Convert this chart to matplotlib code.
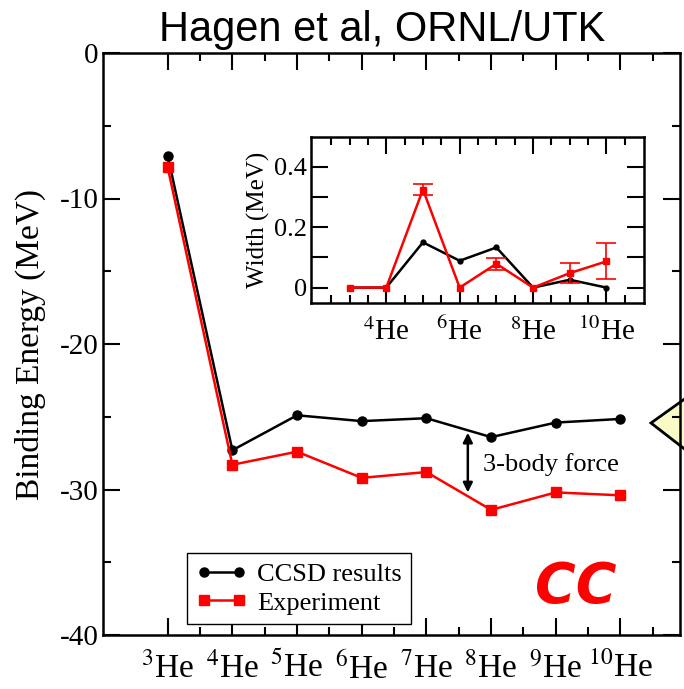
import numpy as np
import matplotlib
matplotlib.use('Agg')
import matplotlib.pyplot as plt
from matplotlib.patches import Polygon

plt.rcParams['font.family'] = 'Liberation Serif'
plt.rcParams['mathtext.fontset'] = 'stix'

# main panel data (binding energies, MeV)
isotopes = [3, 4, 5, 6, 7, 8, 9, 10]
tick_labels = [r'$^{3}$He', r'$^{4}$He', r'$^{5}$He', r'$^{6}$He',
               r'$^{7}$He', r'$^{8}$He', r'$^{9}$He', r'$^{10}$He']
ccsd_energy = [-7.06, -27.3, -24.9, -25.3, -25.1, -26.4, -25.4, -25.15]
exp_energy = [-7.86, -28.3, -27.4, -29.2, -28.8, -31.4, -30.2, -30.4]

# inset data (widths, MeV)
ccsd_width = [0.0, 0.0, 0.150, 0.089, 0.133, 0.0, 0.026, 0.0]
exp_width = [0.0, 0.0, 0.325, 0.0, 0.079, 0.0, 0.048, 0.087]
exp_width_err = [0.0, 0.0, 0.019, 0.0, 0.020, 0.0, 0.032, 0.060]
inset_ticks = [4, 6, 8, 10]
inset_labels = [r'$^{4}$He', r'$^{6}$He', r'$^{8}$He', r'$^{10}$He']

RED = '#ff0000'

fig = plt.figure(figsize=(6.84, 6.89), dpi=100)

# main axes
ax = fig.add_axes([103/684, 54/689, 577/684, 582/689])
ax.patch.set_visible(False)
ax.plot(isotopes, ccsd_energy, c='k', lw=1.8, marker='o', ms=6.5,
        label='CCSD results', zorder=3)
ax.plot(isotopes, exp_energy, c=RED, lw=1.8, marker='s', ms=7.5,
        label='Experiment', zorder=4)
ax.set_xlim(2, 10.92)
ax.set_ylim(-40, 0)
ax.set_xticks(isotopes)
ax.set_xticklabels(tick_labels, fontsize=24)
ax.set_xticks(np.arange(3.5, 10.6, 1.0), minor=True)
ax.set_yticks([0, -10, -20, -30, -40])
ax.set_yticklabels(['0', '-10', '-20', '-30', '-40'], fontsize=21)
ax.set_yticks([-5, -15, -25, -35], minor=True)
ax.tick_params(which='both', direction='in', top=True, right=True, width=1.5)
ax.tick_params(which='major', length=12)
ax.tick_params(which='minor', length=6)
ax.tick_params(axis='x', pad=12)
ax.tick_params(axis='y', pad=3)
for s in ax.spines.values():
    s.set_linewidth(1.8)
ax.set_ylabel('Binding Energy (MeV)', fontsize=24, labelpad=10)

# 3-body force arrow
ax.annotate('', xy=(7.64, -30.2), xytext=(7.64, -26.1),
            arrowprops=dict(arrowstyle='<|-|>', color='k', lw=1.8,
                            mutation_scale=14, shrinkA=0, shrinkB=0))
ax.text(7.88, -28.3, '3-body force', fontsize=19, va='center', ha='left')

leg = ax.legend(loc='lower left', bbox_to_anchor=(0.146, 0.019),
                borderaxespad=0, numpoints=2, fontsize=19, fancybox=False,
                handlelength=1.9, handletextpad=0.4, borderpad=0.35,
                labelspacing=0.2, framealpha=1)
leg.get_frame().set_edgecolor('k')
leg.get_frame().set_linewidth(1.0)

ax.text(0.82, 0.082, 'CC', transform=ax.transAxes, color=RED,
        fontsize=40, fontweight='bold', fontstyle='italic',
        family='DejaVu Sans', ha='center', va='center')

# title
fig.text(382/684, 1 - 30/689, 'Hagen et al, ORNL/UTK', fontsize=30,
         family='Liberation Sans', ha='center', va='center')

# callout shape at right edge
callout = Polygon([[651/684, 1 - 423/689], [700/684, 1 - 388/689],
                   [700/684, 1 - 461/689]], closed=True,
                  transform=fig.transFigure, facecolor='#fafac8',
                  edgecolor='k', lw=2, zorder=-1)
fig.patches.append(callout)

# inset
ins = fig.add_axes([311/684, (689 - 302.7)/689, 333.3/684, 166/689])
ins.plot(isotopes, ccsd_width, c='k', lw=1.8, marker='o', ms=3.5, zorder=3)
ins.plot(isotopes, exp_width, c=RED, lw=1.8, marker='s', ms=5, zorder=4)
has_err = np.array(exp_width_err) > 0
ins.errorbar(np.array(isotopes)[has_err], np.array(exp_width)[has_err],
             yerr=np.array(exp_width_err)[has_err], fmt='none',
             ecolor=RED, elinewidth=1.2, capsize=7, capthick=1.2, zorder=5)
ins.set_xlim(1.95, 11.03)
ins.set_ylim(-0.05, 0.5)
ins.set_xticks(inset_ticks)
ins.set_xticklabels(inset_labels, fontsize=21)
ins.set_xticks([x for x in np.arange(2.5, 11.0, 0.5) if x not in inset_ticks],
               minor=True)
ins.set_yticks([0, 0.2, 0.4])
ins.set_yticklabels(['0', '0.2', '0.4'], fontsize=19)
ins.set_yticks([0.1, 0.3], minor=True)
ins.tick_params(which='both', direction='in', top=True, right=True, width=1.5)
ins.tick_params(which='major', length=12)
ins.tick_params(axis='x', which='minor', length=6)
ins.tick_params(axis='y', which='minor', length=12)
ins.tick_params(axis='x', pad=11)
ins.tick_params(axis='y', pad=3)
for s in ins.spines.values():
    s.set_linewidth(1.8)
ins.set_ylabel('Width (MeV)', fontsize=18, labelpad=3)

fig.savefig('out.png', dpi=100)
